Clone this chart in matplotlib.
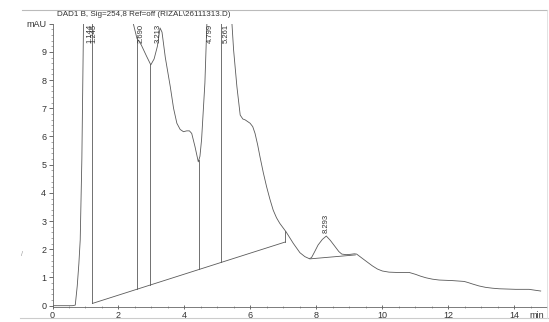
import numpy as np
import matplotlib
matplotlib.use("Agg")
import matplotlib.pyplot as plt
from matplotlib.ticker import MultipleLocator, FixedLocator
from matplotlib.lines import Line2D

plt.rcParams['font.family'] = ['Liberation Sans', 'DejaVu Sans']

# ---- data ----
time = [0.00, 0.60, 0.69, 0.75, 0.80, 0.84, 0.89, 0.94, 1.00, 1.144, 1.20, 1.245,
        1.40, 1.80, 2.20, 2.40, 2.45, 2.56, 2.69, 2.85, 2.98, 3.08, 3.18, 3.26,
        3.32, 3.42, 3.57, 3.67, 3.77, 3.87, 3.97, 4.07, 4.15, 4.22, 4.32, 4.42,
        4.47, 4.52, 4.57, 4.62, 4.68, 4.799, 4.95, 5.12, 5.261, 5.38, 5.44, 5.49,
        5.59, 5.69, 5.77, 5.84, 5.99, 6.07, 6.14, 6.22, 6.29, 6.39, 6.49, 6.59,
        6.69, 6.79, 6.89, 7.08, 7.30, 7.50, 7.65, 7.78, 7.85, 7.95, 8.05, 8.18,
        8.30, 8.42, 8.57, 8.68, 8.77, 8.90, 9.02, 9.15, 9.22, 9.39, 9.55, 9.70,
        9.85, 10.00, 10.20, 10.41, 10.81, 11.01, 11.15, 11.32, 11.52, 11.72, 12.12,
        12.48, 12.60, 12.73, 12.93, 13.13, 13.34, 13.54, 14.04, 14.45, 14.62, 14.80]
signal = [0.0, 0.0, 0.02, 0.7, 1.5, 2.33, 5.2, 10.0, 30.0, 60.0, 52.0, 55.0,
          45.0, 25.0, 14.0, 10.6, 10.0, 9.48, 9.25, 8.85, 8.54, 8.75, 9.2, 9.85,
          9.7, 8.8, 7.77, 7.0, 6.47, 6.25, 6.17, 6.2, 6.2, 6.11, 5.64, 5.1,
          5.3, 5.9, 6.9, 7.9, 10.0, 25.0, 15.0, 12.0, 25.0, 12.0, 10.0, 9.07,
          7.77, 6.76, 6.62, 6.59, 6.47, 6.35, 6.11, 5.7, 5.28, 4.72, 4.22, 3.78,
          3.39, 3.12, 2.92, 2.62, 2.21, 1.88, 1.74, 1.67, 1.70, 1.92, 2.15, 2.35,
          2.47, 2.32, 2.09, 1.92, 1.83, 1.81, 1.82, 1.84, 1.83, 1.68, 1.54, 1.41,
          1.30, 1.23, 1.19, 1.18, 1.18, 1.11, 1.05, 0.99, 0.94, 0.91, 0.89,
          0.86, 0.82, 0.77, 0.70, 0.65, 0.62, 0.60, 0.58, 0.58, 0.55, 0.52]

peak_rt = [1.144, 1.245, 2.690, 3.213, 4.799, 5.261, 8.293]
peak_labels = ["1.144", "1.245", "2.690", "3.213", "4.799", "5.261", "8.293"]

# integration events (drop lines and baselines)
drop_times = [1.21, 2.55, 2.97, 4.44, 5.12, 7.06]
baseline1_t = [1.21, 7.06]
baseline1_v = [0.08, 2.26]
baseline2_t = [7.80, 9.18]
baseline2_v = [1.66, 1.80]

xticks = [0, 2, 4, 6, 8, 10, 12, 14]
xtick_labels = ["0", "2", "4", "6", "8", "10", "12", "14"]
yticks = [0, 1, 2, 3, 4, 5, 6, 7, 8, 9, 10]
ytick_labels = ["0", "1", "2", "3", "4", "5", "6", "7", "8", "9", "mAU"]
title = "DAD1 B, Sig=254,8 Ref=off (RIZAL\\26111313.D)"

# ---- figure ----
W, H = 549, 322
fig = plt.figure(figsize=(W / 100, H / 100), dpi=100)
fig.patch.set_facecolor('white')

left, right = 52.5 / W, 547.3 / W
bottom, top = 1 - 307.1 / H, 1 - 23.7 / H
ax = fig.add_axes([left, bottom, right - left, top - bottom])
ax.set_xlim(0, 15)
ax.set_ylim(-0.05, 10)

lc = '#5a5a5a'
ax.plot(time, signal, color=lc, lw=0.6)

# baselines
ax.plot(baseline1_t, baseline1_v, color=lc, lw=0.6)
ax.plot(baseline2_t, baseline2_v, color=lc, lw=0.6)

# drop lines from baseline to signal
for t in drop_times:
    b = np.interp(t, baseline1_t, baseline1_v)
    s = np.interp(t, time, signal)
    ax.plot([t, t], [b, s], color=lc, lw=0.6)

# peak labels
for rt, lab in zip(peak_rt, peak_labels):
    s = np.interp(rt, time, signal)
    if s > 9.0:
        ax.text(rt, 9.98, lab, rotation=90, ha='center', va='top',
                fontsize=5.5, color='#333333')
    else:
        ax.text(rt, s + 0.12, lab, rotation=90, ha='center', va='bottom',
                fontsize=5.5, color='#333333')

for sp in ['top', 'right']:
    ax.spines[sp].set_visible(False)
for sp in ['left', 'bottom']:
    ax.spines[sp].set_color('#666666')
    ax.spines[sp].set_linewidth(0.6)

ax.xaxis.set_major_locator(FixedLocator(xticks))
ax.set_xticklabels(xtick_labels)
ax.xaxis.set_minor_locator(MultipleLocator(0.5))
ax.yaxis.set_major_locator(FixedLocator(yticks))
ax.set_yticklabels(ytick_labels)
ax.yaxis.set_minor_locator(MultipleLocator(0.2))

ax.tick_params(axis='both', which='major', labelsize=6.5, colors='#333333',
               length=3, width=0.5, direction='out', pad=1.5)
ax.tick_params(axis='both', which='minor', length=1.5, width=0.4,
               color='#666666', direction='out')
ax.tick_params(axis='x', which='major', direction='inout', length=3)
ax.tick_params(axis='x', which='minor', direction='inout', length=2)

ax.annotate("min", xy=(14.68, 0), xycoords=('data', 'axes fraction'),
            xytext=(0, -3.0), textcoords='offset points', ha='center', va='top',
            fontsize=6.5, color='#333333')

fig.text(57 / W, 1 - 15 / H, title, ha='left', va='center', fontsize=5.8,
         color='#333333')

# scan frame marks
fig.add_artist(Line2D([22 / W, 547 / W], [1 - 10 / H, 1 - 10 / H],
                      color='#bbbbbb', lw=0.8))
fig.add_artist(Line2D([20 / W, 1.0], [1 - 318 / H, 1 - 318 / H],
                      color='#cccccc', lw=0.8))
fig.add_artist(Line2D([547 / W, 547 / W], [1 - 10 / H, 1 - 318 / H],
                      color='#dddddd', lw=0.6))
fig.text(21.7 / W, 1 - 255 / H, "/", fontsize=5, color='#999999',
         ha='center', va='center')

fig.savefig("out.png", dpi=100, facecolor='white')
